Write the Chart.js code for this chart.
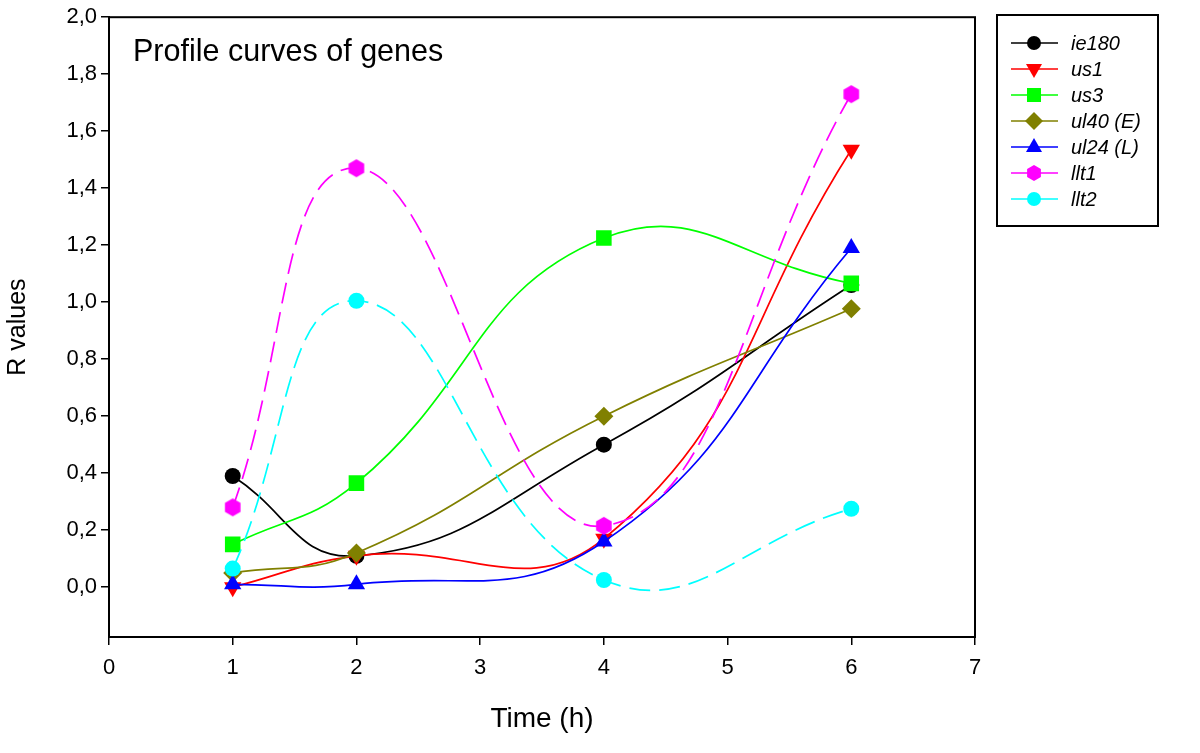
<!DOCTYPE html>
<html>
<head>
<meta charset="utf-8">
<script src="https://cdn.jsdelivr.net/npm/chart.js@4.4.1/dist/chart.umd.min.js"></script>
<style>
html,body{margin:0;padding:0;background:#fff;}
#wrap{position:relative;width:1200px;height:753px;font-family:Arial,"Liberation Sans",sans-serif;}
#grafico{position:absolute;left:0;top:0;}
#titulo{position:absolute;left:133px;top:35px;font-size:30.5px;line-height:31px;color:#000;white-space:nowrap;}
#legenda{position:absolute;left:996px;top:14px;width:159px;height:209px;border:2px solid #000;}
.leg-row{position:absolute;left:0;height:26px;width:159px;}
.leg-row svg{position:absolute;left:13px;top:0;}
.leg-row span{position:absolute;left:73px;top:1px;font-size:20px;font-style:italic;line-height:24px;color:#000;white-space:nowrap;}
</style>
</head>
<body>
<div id="wrap">
  <canvas id="grafico" width="1200" height="753"></canvas>
  <div id="titulo">Profile curves of genes</div>
  <div id="legenda"></div>
</div>
<script>
// dados
const tempos=[1,2,4,6];
const ie180=[0.39,0.11,0.50,1.06];
const us1=[0.00,0.11,0.17,1.535];
const us3=[0.15,0.365,1.225,1.066];
const ul40=[0.05,0.12,0.60,0.977];
const ul24=[0.01,0.01,0.16,1.19];
const llt1=[0.28,1.47,0.215,1.73];
const llt2=[0.065,1.005,0.025,0.275];
const nomes=['ie180','us1','us3','ul40 (E)','ul24 (L)','llt1','llt2'];
const series=[ie180,us1,us3,ul40,ul24,llt1,llt2];
const cores=['#000000','#ff0000','#00ff00','#808000','#0000ff','#ff00ff','#00ffff'];
const marcadores=['circle','triangleDown','rect','rectRot','triangle','hexagon','circle'];
const tracejado=[false,false,false,false,false,true,true];
const xTicks=[0,1,2,3,4,5,6,7];
const yTicks=[0,0.2,0.4,0.6,0.8,1.0,1.2,1.4,1.6,1.8,2.0];

const fmtVirgula=(v)=>v.toFixed(1).replace('.',',');
const fonte='Arial, "Liberation Sans", sans-serif';

function hexagono(cor,r){
  const c=document.createElement('canvas');
  const s=Math.ceil(r*2)+2;
  c.width=s;c.height=s;
  const g=c.getContext('2d');
  g.fillStyle=cor;
  g.beginPath();
  for(let i=0;i<6;i++){
    const a=Math.PI/2+i*Math.PI/3;
    const x=s/2+r*Math.cos(a),y=s/2+r*Math.sin(a);
    if(i===0) g.moveTo(x,y); else g.lineTo(x,y);
  }
  g.closePath();g.fill();
  return c;
}

function estiloPonto(m,cor){
  if(m==='hexagon') return {pointStyle:hexagono(cor,9),pointRadius:9,pointRotation:0};
  if(m==='triangleDown') return {pointStyle:'triangle',pointRadius:10,pointRotation:180};
  if(m==='triangle') return {pointStyle:'triangle',pointRadius:10,pointRotation:0};
  if(m==='rect') return {pointStyle:'rect',pointRadius:11,pointRotation:0};
  if(m==='rectRot') return {pointStyle:'rectRot',pointRadius:9.5,pointRotation:0};
  return {pointStyle:'circle',pointRadius:8,pointRotation:0};
}

const datasets=series.map(function(s,i){
  const p=estiloPonto(marcadores[i],cores[i]);
  return Object.assign({
    label:nomes[i],
    data:tempos.map(function(t,j){return {x:t,y:s[j]};}),
    borderColor:cores[i],
    backgroundColor:cores[i],
    pointBorderColor:cores[i],
    pointBackgroundColor:cores[i],
    pointBorderWidth:0,
    borderWidth:1.7,
    borderDash:tracejado[i]?[21,9]:[],
    tension:0.45,
    fill:false,
    order:-i
  },p);
});

const moldura={
  id:'moldura',
  afterDraw(chart){
    const a=chart.chartArea,ctx=chart.ctx;
    ctx.save();
    ctx.strokeStyle='#000';
    ctx.lineWidth=2;
    ctx.strokeRect(a.left,a.top,a.right-a.left,a.bottom-a.top);
    ctx.restore();
  }
};

const ctx=document.getElementById('grafico').getContext('2d');
const grafico=new Chart(ctx,{
  type:'line',
  data:{datasets:datasets},
  options:{
    responsive:false,
    animation:false,
    layout:{padding:{top:14,right:225,left:0,bottom:0}},
    plugins:{legend:{display:false},tooltip:{enabled:false}},
    scales:{
      x:{
        type:'linear',min:0,max:7,
        afterBuildTicks:function(s){s.ticks=xTicks.map(function(v){return {value:v};});},
        afterFit:function(s){s.height=116;},
        grid:{drawOnChartArea:false,drawTicks:true,tickLength:8,color:'#000',lineWidth:1.5},
        border:{display:true,color:'#000',width:2},
        ticks:{color:'#000',padding:10,font:{family:fonte,size:22},maxRotation:0},
        title:{display:true,text:'Time (h)',color:'#000',font:{family:fonte,size:28},padding:{top:0,bottom:17}}
      },
      y:{
        type:'linear',min:-0.175,max:2.0,
        afterBuildTicks:function(s){s.ticks=yTicks.map(function(v){return {value:v};});},
        afterFit:function(s){s.width=109;},
        grid:{drawOnChartArea:false,drawTicks:true,tickLength:8,color:'#000',lineWidth:1.5},
        border:{display:true,color:'#000',width:2},
        ticks:{color:'#000',padding:4,font:{family:fonte,size:22},callback:function(v){return fmtVirgula(v);}},
        title:{display:true,text:'R values',color:'#000',font:{family:fonte,size:25},padding:{top:3,bottom:0}}
      }
    }
  },
  plugins:[moldura]
});

// legenda em html
function iconeSvg(i){
  const c=cores[i],m=marcadores[i],cx=23,cy=13;
  let forma='';
  if(m==='circle') forma='<circle cx="'+cx+'" cy="'+cy+'" r="7" fill="'+c+'"/>';
  else if(m==='rect') forma='<rect x="'+(cx-7)+'" y="'+(cy-7)+'" width="14" height="14" fill="'+c+'"/>';
  else if(m==='rectRot') forma='<polygon points="'+cx+','+(cy-9)+' '+(cx+9)+','+cy+' '+cx+','+(cy+9)+' '+(cx-9)+','+cy+'" fill="'+c+'"/>';
  else if(m==='triangle') forma='<polygon points="'+cx+','+(cy-9)+' '+(cx+8)+','+(cy+5)+' '+(cx-8)+','+(cy+5)+'" fill="'+c+'"/>';
  else if(m==='triangleDown') forma='<polygon points="'+cx+','+(cy+9)+' '+(cx+8)+','+(cy-5)+' '+(cx-8)+','+(cy-5)+'" fill="'+c+'"/>';
  else {
    let pts=[];
    for(let k=0;k<6;k++){const a=Math.PI/2+k*Math.PI/3;pts.push((cx+8*Math.cos(a)).toFixed(1)+','+(cy+8*Math.sin(a)).toFixed(1));}
    forma='<polygon points="'+pts.join(' ')+'" fill="'+c+'"/>';
  }
  return '<svg width="50" height="26"><line x1="0" y1="'+cy+'" x2="47" y2="'+cy+'" stroke="'+c+'" stroke-width="1.6"/>'+forma+'</svg>';
}
document.getElementById('legenda').innerHTML=nomes.map(function(n,i){
  return '<div class="leg-row" style="top:'+(14+i*26)+'px">'+iconeSvg(i)+'<span>'+n+'</span></div>';
}).join('');
</script>
</body>
</html>
